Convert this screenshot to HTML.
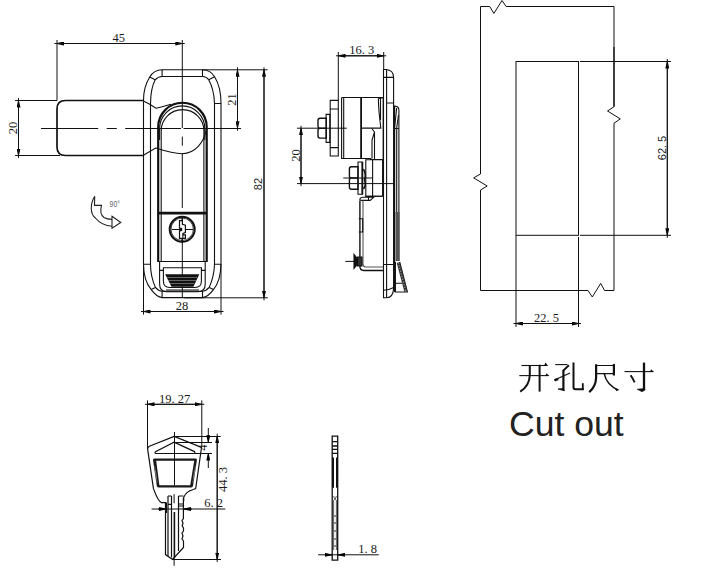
<!DOCTYPE html>
<html><head><meta charset="utf-8">
<style>
html,body{margin:0;padding:0;background:#fff;width:711px;height:570px;overflow:hidden}
svg{display:block}
.t{font-family:"Liberation Serif",serif;font-size:12.5px;fill:#1a1a1a}
.s{font-family:"Liberation Sans",sans-serif;fill:#222}
</style></head><body>
<svg width="711" height="570" viewBox="0 0 711 570">
<defs>
<marker id="ar" viewBox="0 0 7 4" refX="7" refY="2" markerWidth="7" markerHeight="4" markerUnits="userSpaceOnUse" orient="auto-start-reverse"><path d="M0,0 L7,1.6 V2.4 L0,4z" fill="#000"/></marker>
</defs>
<g fill="none" stroke="#111" stroke-width="1">

<!-- ===== CUTOUT ===== -->
<path d="M480.5,6.5 H489.7 L493.9,13.4 L502,0.5 L506.1,6.5 H614 V106.7 L607.5,111 L620.3,118.9 L614,123.2 V290.5 H604.6 L600.7,283.4 L592.3,297 L588,290.5 H480.5 V190 L487.2,186 L473.7,177.9 L480.5,174 Z"/>
<rect x="516" y="61.5" width="62.5" height="173.8"/>
<path d="M614,47 V106.7" stroke-width="1.2"/>
<path d="M580,61.5 H671 M580,235.3 H671 M516,235.3 V327 M578.5,237 V327"/>
<path d="M667.3,61.5 V235.3" marker-start="url(#ar)" marker-end="url(#ar)"/><path d="M667.3,59.0 V237.8"/>
<path d="M516,323.5 H578.5" marker-start="url(#ar)" marker-end="url(#ar)"/><path d="M513.5,323.5 H581.0"/>
</g>
<text class="t" x="546.6" y="321.5" text-anchor="middle">22. 5</text>
<text class="s" font-size="11" transform="translate(666,148) rotate(-90)" text-anchor="middle">62. 5</text>


<!-- ===== FRONT VIEW ===== -->
<g fill="none" stroke="#111" stroke-width="1">
<!-- 45 dim -->
<path d="M57,40 V100.5 M182.3,40 V128"/>
<path d="M57,43.5 H182.3" marker-start="url(#ar)" marker-end="url(#ar)"/><path d="M54.5,43.5 H184.8"/>
<!-- 20 dim -->
<path d="M15,100.5 H57 M15,155.5 H60"/>
<path d="M18.5,100.5 V155.5" marker-start="url(#ar)" marker-end="url(#ar)"/><path d="M18.5,98.0 V158.0"/>
<!-- 21 / 82 dim -->
<path d="M202,69.8 H267.6 M206,128.5 H241 M184,297.8 H267.8"/>
<path d="M237.5,69.8 V128.2" marker-start="url(#ar)" marker-end="url(#ar)"/><path d="M237.5,67.3 V130.7"/>
<path d="M264,69.8 V297.8" marker-start="url(#ar)" marker-end="url(#ar)"/><path d="M264,67.3 V300.3"/>
<!-- 28 dim -->
<path d="M143.5,264 V314.6 M221,264 V314.6"/>
<path d="M143.5,311.5 H221" marker-start="url(#ar)" marker-end="url(#ar)"/><path d="M141.0,311.5 H223.5"/>
<!-- center lines -->
<path d="M41,128.5 H98.2 M106.7,128.5 H116.8 M125.2,128.5 H181 M183.5,128.5 H206"/>
<path d="M182.3,136.6 V145.7 M182.3,153.2 V208 M182.3,216 V297"/>
</g>
<g fill="none" stroke="#111" stroke-width="1.7">
<!-- arm -->
<path d="M143.5,100.5 H65.5 Q57,100.5 57,109 V147 Q57,155.5 65.5,155.5 H143.5"/>
</g>
<g fill="none" stroke="#111" stroke-width="1.1">
<!-- body outer -->
<path d="M143.5,100.3 C143.5,92 146,83 149.7,77 Q154,70 162.1,69.8 H202.5 Q210.6,70 214.6,76.8 C218.4,83 221,92 221,103.5 V264.2 C220.8,274 219,283 213.4,289.6 Q208,297 202.5,297.6 H162.1 Q156.6,297 151.2,289.6 C145.6,283 143.6,274 143.5,264.2 V100.3"/>
<!-- body inner -->
<path d="M150.5,103.5 C150.6,94 152.5,85 155.2,79.8 Q158,76.6 162.1,76.5 H202.5 Q206.6,76.6 208.7,79.7 C211.6,85 214.2,94 214.5,103.5 V264.2 C214.3,273 212,281 209.2,287.4 Q206,291 202.5,291.2 H162.1 Q158.6,291 155.4,287.4 C152.6,281 150.5,273 150.5,264.2 Z"/>
<!-- ticks -->
<path d="M162.1,69.8 V76.5 M202.5,69.8 V76.5 M149.7,77 L155.2,79.8 M214.6,76.8 L208.7,79.7 M214.5,103.5 H221 M143.5,264.2 H150.5 M214.5,264.2 H221 M162.1,291.2 V297.3 M202.5,291.2 V297.3 M151.2,289.6 L155.4,287.4 M213.4,289.6 L209.2,287.4"/>
<!-- arm joints -->
<path d="M143.5,101 L150.2,104.5 L155.9,108.2 C159,107.6 164,106.2 171,104.2"/>
<path d="M143.4,155.3 L155.7,148 C165,151 175,153.7 182.3,153.7 C195,153.7 204,143 206.7,128"/>
<!-- inner arcs -->
<path d="M159.6,140 V128.5 A22.6,22.6 0 0 1 204.8,128.5 V140"/>
<path d="M161.2,262 V131 A21,21 0 0 1 203.9,131 V262"/>
<path d="M158.2,261.5 H206.5"/>
</g>
<g fill="none" stroke="#111" stroke-width="2.2">
<path d="M158.2,262 V127 A24.2,24.2 0 0 1 206.7,127 V262"/>
<path d="M158.6,213.2 H206" stroke-width="2.8"/>
</g>
<!-- lock cylinder -->
<g fill="none" stroke="#111" stroke-width="1.2">
<circle cx="182.2" cy="229.3" r="12.5" stroke-width="2"/>
<circle cx="182.2" cy="229.3" r="11.2" stroke-width="0.8"/>
<path d="M171.7,229.5 H193 M182.3,216 V220.6 M182.3,238.3 V243"/>
<path d="M179.5,220.6 H182.4 V224.2 L185.4,225.1 V232.6 L182.9,233.5 V234.8 H185.4 V238.3 H179.5 V230.8 L181.6,230.4 V228.6 L179.5,228.2 Z" fill="#fff" stroke-width="1.2"/>
<path d="M182.9,234.8 V238.3" stroke-width="1"/>
</g>
<!-- grip -->
<g fill="none" stroke="#111" stroke-width="1.1">
<path d="M159.6,262 V284 Q159.6,291.7 166.8,291.7 H198 Q205.2,291.7 205.2,284 V262"/>
<path d="M163.4,267.7 H201.4 V281 Q201.4,287.5 195,287.5 H169.8 Q163.4,287.5 163.4,281 Z"/>
<path d="M159.6,270.4 H163.4 M201.4,270.4 H205.2 M166,290 H199"/>
</g>
<path d="M165.1,274.3 H199.3 L193.4,286.8 H171.5 Z" fill="#111"/>
<g stroke="#fff" stroke-width="0.45" opacity="0.8"><path d="M167,277.5 H197 M168.5,280.5 H196 M170,283.5 H194"/></g>
<!-- rotate arrow -->
<g fill="none" stroke="#222" stroke-width="1.1" stroke-linejoin="miter">
<path d="M94.7,196.3 C90,204 90,214 95.4,218 C99,222.5 105,225.8 112,226.2 M94.7,196.3 L94.5,205.4 H101.5 C100,211 100.5,215 104,217.5 C106,218.8 109,219.3 112,219.4"/>
<path d="M112,216.3 L120.8,222.5 L112,228.2 Z"/>
</g>
<text x="0" y="0" font-family="Liberation Sans,sans-serif" font-size="9.5" fill="#666" transform="translate(109.6,207.3) scale(0.72,1)">90°</text>
<!-- dim texts -->
<text class="t" x="118.8" y="41.8" text-anchor="middle">45</text>
<text class="t" transform="translate(18,128) rotate(-90)" x="0" y="-1" text-anchor="middle">20</text>
<text class="t" transform="translate(235.5,99.6) rotate(-90)" x="0" y="0" text-anchor="middle">21</text>
<text class="s" font-size="11" transform="translate(262.2,184) rotate(-90)" x="0" y="0" text-anchor="middle">82</text>
<text class="t" x="182" y="309.8" text-anchor="middle">28</text>


<!-- ===== SIDE VIEW ===== -->
<g fill="none" stroke="#111" stroke-width="1">
<path d="M338.3,52 V100.3 M383.7,52 V69.5"/>
<path d="M338.5,55.8 H383.7" marker-start="url(#ar)" marker-end="url(#ar)"/><path d="M336.0,55.8 H386.2"/>
<path d="M297,128.2 H346.8 M297,183.6 H394"/>
<path d="M301,128.3 V183.6" marker-start="url(#ar)" marker-end="url(#ar)"/><path d="M301,125.80000000000001 V186.1"/>
<path d="M343.3,178 H372"/>
<path d="M345.3,261.4 H362"/>
</g>
<g fill="none" stroke="#111" stroke-width="1.1">
<!-- nut top -->
<path d="M320,118.2 H326.3 V138.1 H320 Q318,138.1 318,136 V130 Q318,128.2 320,128.2 H326.3 M320,128.2 Q318,128.2 318,126 V120.5 Q318,118.2 320,118.2" stroke-width="1.4"/>
<path d="M326.1,114.4 H329.8 V142.4 H326.1 Z"/>
<path d="M330.2,100.4 H338.3 V156 H330.2 Z M330.2,109 H338.3 M330.2,147.6 H338.3"/>
<!-- cylinder -->
<path d="M341.6,97.5 H383.2 V159.5 M341.6,97.5 V158.5 H370.8 V159.5 H382.6"/>
<path d="M343.7,98 V158"/>
<path d="M361.1,128.1 H380.8 C380,120 378.5,112 378.4,98.5"/>
<path d="M378.4,98.4 Q380.5,97.6 383,98 M380.5,98.4 V120"/>
<path d="M371.8,128.5 L374.5,132 L372,140 V158.5 M374.5,132 V159"/>
</g>
<path d="M361.1,97.5 V158.5" fill="none" stroke="#111" stroke-width="1.8"/>
<g fill="none" stroke="#111" stroke-width="1.1">
<!-- lower block & nut -->
<path d="M365.8,159.8 H382.6 V196.3 H365.8 Z M372.6,160 V196"/>
<path d="M351.4,166.8 H358 V189.3 H351.4 Q349.4,189.3 349.4,187 V180 Q349.4,178 351.4,178 H358 M351.4,178 Q349.4,178 349.4,176 V169 Q349.4,166.8 351.4,166.8" stroke-width="1.4"/>
<path d="M358,162 H362.5 V194.2 H358 Z"/><path d="M362.3,162 V194.2" stroke-width="1.8"/>
<path d="M363.5,169 Q366.5,175 364.5,180 Q366.5,185 363.5,189" stroke-width="1.6"/>
<!-- bracket -->
<path d="M365.5,196.2 H382.4 M362.2,197.3 H373.6 L370.2,200.4 H361.5 Q359.7,200.4 359.9,199 Q360.5,197.5 362.2,197.3 M368.5,197.5 V200.4"/>
<path d="M359.9,200.4 V266 Q359.9,270.5 363.7,270.5 H383.5" stroke-width="1.4"/>
<path d="M363,200.5 V264 Q363,267 366,267 H383.5" stroke="#555"/>
<path d="M358.8,218.8 H362.7 V232 H358.8"/>
<!-- screw -->
<path d="M354,254.4 L357.5,259 V264 L354,268.4 Z" fill="#111"/>
<path d="M357.5,257 H362 V266 H357.5 Z" fill="#333"/>
<!-- plate -->
<path d="M383.5,69.5 H386 Q393.6,70 393.6,77.4 V288.6 Q393,297.7 386.7,297.7 H383.5 Z"/>
<path d="M386.6,69.8 V297.5 M383.5,77.4 H393.6 M386.6,103 H393.6 M383.5,264.5 H393.6 M383.5,290.2 Q389,290 393.6,287.5"/>
<path d="M394,106.1 H395 Q398.9,106.5 398.9,110 V261"/>
<path d="M396.7,108 L394.5,128 M398.5,115 L396.7,128 M394,128.5 H398.9 M396.7,128.5 V212"/>
<path d="M395.4,262 V292 H407.4 L399.7,262 M395.4,283.3 H402.1"/>
</g>
<path d="M394.5,106 V292" stroke="#111" stroke-width="1.4" fill="none"/>
<path d="M397.5,212 V261" stroke="#555" stroke-width="4" fill="none"/>
<path d="M398.2,262.5 L405.8,291.3" stroke="#333" stroke-width="3" fill="none"/>
<path d="M398.2,262.5 L405.8,291.3" stroke="#aaa" stroke-width="1" stroke-dasharray="1.2,1.6" fill="none"/>
<text class="t" x="361.8" y="54" text-anchor="middle">16. 3</text>
<text class="t" transform="translate(300,155.5) rotate(-90)" x="0" y="0" text-anchor="middle">20</text>


<!-- ===== KEY ===== -->
<g fill="none" stroke="#111" stroke-width="1">
<path d="M147.5,400.4 V449 M201.8,400.4 V447"/>
<path d="M147.5,404.3 H201.8" marker-start="url(#ar)" marker-end="url(#ar)"/><path d="M145.0,404.3 H204.3"/>
<path d="M174.2,436.5 H220.7 M174,442.5 H212 M194,453.5 H212"/>
<path d="M208.3,428 V442.3" marker-end="url(#ar)"/>
<path d="M208.3,468 V453.5" marker-end="url(#ar)"/>
<path d="M217.2,436.2 V559.5" marker-start="url(#ar)" marker-end="url(#ar)"/><path d="M217.2,433.7 V562.0"/>
<path d="M172.5,559.5 H221"/>
<path d="M151.6,509 H225.3"/>
<path d="M158,509 H165.5" marker-end="url(#ar)"/>
<path d="M192,509 H184" marker-end="url(#ar)"/>
<path d="M174.5,432 V485.4 M174.1,494.2 V503.3 M174.1,512 V565.8"/>
</g>
<g fill="none" stroke="#111" stroke-width="1.2">
<path d="M174.2,436.4 L201.5,447.5 L195.7,488.6 L193.3,489.5 C188,491 185,494 183.7,497.3 V501.2 M174.2,436.4 L149.4,446.2 Q147.3,447.2 147.7,449.6 L153.4,488.4 C155,492 157,500 161.3,502.6 H165.5 V554.6 L172.5,559.5 L183.5,547.5 V541 L182,539 L183,536 L182,533 L183.5,531 V528 L182.2,526 L183,523 L182,520.5 L183.4,518.5 V497.7"/>
<path d="M174,442.1 L194.5,451.6 Q196,453.5 193,453.5 H157 Q154,453.5 155.5,451.6 Z"/>
<path d="M168,496 V556 M171.5,496 V557.5 M168,496 H171.5 M168,504.4 H171.5 M178.5,496 V551 M178.5,496 H183.4 M178.5,504 H183.4 M178.5,506 H183.4 M174.6,512 V558"/>
<path d="M166.1,502.6 V513" stroke-width="1.8"/>
</g>
<path d="M154.3,458.5 H195.7 Q197.2,458.5 196.9,460 L193,486 Q192.7,487.4 191.3,487.4 H158.4 Q157,487.4 156.8,486 L153,460 Q152.8,458.5 154.3,458.5 Z M156.2,460.7 L159.4,485.2 H190.2 L194.2,460.7 Z" fill="#1a1a1a" fill-rule="evenodd" stroke="none"/>
<path d="M154.6,466 L156.4,478 M155.4,471 L157.2,483 M195.4,466 L193.6,478 M194.6,471 L192.8,483" stroke="#999" stroke-width="0.5"/>
<text class="t" x="174.6" y="402.9" text-anchor="middle">19. 27</text>
<text class="t" x="213.7" y="507.3" text-anchor="middle">6. 2</text>
<text class="t" transform="translate(227,479.5) rotate(-90)" x="0" y="0" text-anchor="middle">44. 3</text>
<text class="t" font-size="7" transform="translate(207,447.5) rotate(-90)" x="0" y="0" text-anchor="middle">4</text>

<!-- key side -->
<g fill="none" stroke="#111" stroke-width="1.3">
<path d="M332.2,436.1 H337.7 V560.2 H332.2 Z"/>
<path d="M332.2,441.7 H337.7 M332.2,446 H337.7 M332.2,449.4 H337.7 M332.2,453.3 H337.7"/>
</g>
<path d="M333,457.6 V487.7 M337,457.6 V487.7" stroke="#111" stroke-width="2" fill="none"/>
<path d="M333.6,496 L335,500 L336.4,496 M333.6,500 V550 M336.4,500 V550" stroke="#333" stroke-width="0.8" fill="none"/>
<path d="M335,515 V517 M335,522 V524 M335,530 V532 M335,538 V540 M335,545 V547" stroke="#333" stroke-width="1" fill="none"/>
<g fill="none" stroke="#111" stroke-width="1">
<path d="M318.1,554.8 H378.8"/>
<path d="M325,554.8 H332" marker-end="url(#ar)"/>
<path d="M345,554.8 H338" marker-end="url(#ar)"/>
</g>
<text class="t" x="367.7" y="552.7" text-anchor="middle">1. 8</text>


<!-- ===== CJK 开孔尺寸 ===== -->
<g fill="none" stroke="#111" stroke-linecap="butt">
<!-- 开 -->
<path d="M521.4,365.5 H547.3" stroke-width="1.1"/>
<path d="M543.8,365.9 L545.6,362.6 L548,365.9 Z" fill="#111" stroke="none"/>
<path d="M519.3,375.6 H548.5" stroke-width="1.1"/>
<path d="M545.2,376 L546.6,373.2 L549.3,376 Z" fill="#111" stroke="none"/>
<path d="M529.8,365 V375 C529.6,383 526,388 520.2,391.6" stroke-width="2"/>
<path d="M539.6,364.8 V391.6" stroke-width="2"/>
<!-- 孔 -->
<path d="M555.2,364.6 H567.5" stroke-width="1.1"/>
<path d="M568.9,365.2 L563.3,370.6" stroke-width="2"/>
<path d="M563.4,369.8 V390.3" stroke-width="2.2"/>
<path d="M564.4,390.8 L558,389 L563.4,388.5 Z" fill="#111" stroke="#111" stroke-width="0.8"/>
<path d="M554.5,380 L570.1,372.9" stroke-width="1.1"/>
<path d="M554,379.3 L557.8,377.7 L558.6,380 L555,381.5 Z" fill="#111" stroke="none"/>
<path d="M573.5,362.5 V387.5 Q573.5,389.2 575.5,389.2 H583.8" stroke-width="2"/>
<path d="M582.8,383.2 V389.5" stroke-width="1.8"/>
<!-- 尺 -->
<path d="M596.1,364.2 V377.5 C596,384 593.5,388.5 589.2,392.1" stroke-width="2.2"/>
<path d="M596,365.5 H614.9 M596,373.6 H613.9" stroke-width="1.1"/>
<path d="M613.9,364 V375.5" stroke-width="2.2"/>
<path d="M604.2,373.6 C605.5,380 609,386 618.5,390.1" stroke-width="1.5"/>
<path d="M614.5,388.2 L618.8,389.4 L616.6,391.3 Z" fill="#111" stroke="none"/>
<!-- 寸 -->
<path d="M624.5,371.6 H653.4" stroke-width="1.1"/>
<path d="M649.8,372 L651.3,369.3 L653.8,372 Z" fill="#111" stroke="none"/>
<path d="M644,362.6 V390" stroke-width="2.3"/>
<path d="M645.2,390 L642,391.8 L637.2,389.2 L644,388.6 Z" fill="#111" stroke="#111" stroke-width="0.6"/>
<path d="M630.6,375.3 C632,377.5 633.5,379.5 634.6,382.4" stroke-width="1.9"/>
</g>
<text class="s" x="509" y="435.8" font-size="35.6">Cut out</text>
</svg>
</body></html>
